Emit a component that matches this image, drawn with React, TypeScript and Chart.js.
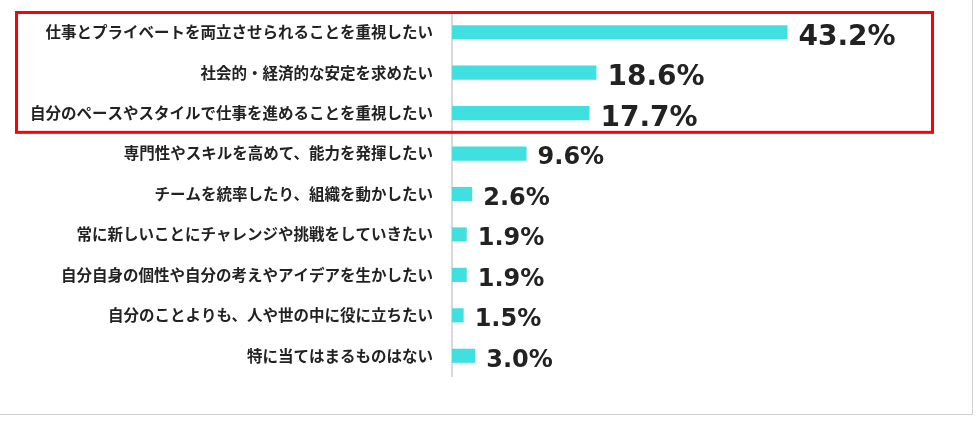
import React, { useEffect, useRef } from "react";
import { Chart, registerables } from "chart.js";

Chart.register(...registerables);

const categories = [
  "仕事とプライベートを両立させられることを重視したい",
  "社会的・経済的な安定を求めたい",
  "自分のペースやスタイルで仕事を進めることを重視したい",
  "専門性やスキルを高めて、能力を発揮したい",
  "チームを統率したり、組織を動かしたい",
  "常に新しいことにチャレンジや挑戦をしていきたい",
  "自分自身の個性や自分の考えやアイデアを生かしたい",
  "自分のことよりも、人や世の中に役に立ちたい",
  "特に当てはまるものはない",
];
const values = [43.2, 18.6, 17.7, 9.6, 2.6, 1.9, 1.9, 1.5, 3.0];
const highlightedRows = [0, 1, 2];

export default function App() {
  const ref = useRef<HTMLCanvasElement | null>(null);

  useEffect(() => {
    if (!ref.current) return;

    const highlightBox = {
      id: "highlightBox",
      afterDraw(chart: any) {
        const y = chart.scales.y;
        const step = (y.bottom - y.top) / categories.length;
        const first = Math.min(...highlightedRows);
        const last = Math.max(...highlightedRows);
        const top = y.top + first * step + 0.5;
        const bottom = y.top + (last + 1) * step - 1;
        const left = 16.5;
        const right = chart.width - 45.5;
        const ctx = chart.ctx;
        ctx.save();
        ctx.strokeStyle = "#ff0000";
        ctx.lineWidth = 3;
        ctx.strokeRect(left, top, right - left, bottom - top);
        ctx.restore();
      },
    };

    const valueLabels = {
      id: "valueLabels",
      afterDatasetsDraw(chart: any) {
        const meta = chart.getDatasetMeta(0);
        const ctx = chart.ctx;
        ctx.save();
        ctx.fillStyle = "#222222";
        ctx.textAlign = "left";
        ctx.textBaseline = "alphabetic";
        meta.data.forEach((bar: any, i: number) => {
          const size = highlightedRows.includes(i) ? 28 : 24;
          ctx.font = `bold ${size}px "DejaVu Sans", sans-serif`;
          ctx.fillText(values[i].toFixed(1) + "%", bar.x + 11, bar.y + size * 0.45);
        });
        ctx.restore();
      },
    };

    const chart = new Chart(ref.current, {
      type: "bar",
      data: {
        labels: categories,
        datasets: [
          {
            data: values,
            backgroundColor: "#40E0E0",
            borderWidth: 0,
            barPercentage: 0.35,
            categoryPercentage: 1,
          },
        ],
      },
      options: {
        indexAxis: "y",
        responsive: false,
        animation: false,
        layout: { padding: { top: 12, bottom: 48, left: 0, right: 60 } },
        plugins: {
          legend: { display: false },
          tooltip: { enabled: false },
        },
        scales: {
          x: { display: false, min: 0, max: 60 },
          y: {
            afterFit: (s: any) => {
              s.width = 452;
              s.paddingTop = 0;
              s.paddingBottom = 0;
            },
            grid: { display: false, drawTicks: false },
            border: { display: true, color: "#d9d9d9", width: 2 },
            ticks: {
              padding: 19,
              color: "#222222",
              font: { family: '"Noto Sans CJK JP", sans-serif', size: 15.5, weight: "bold" },
            },
          },
        },
      },
      plugins: [highlightBox, valueLabels],
    } as any);

    return () => chart.destroy();
  }, []);

  return (
    <div
      style={{
        position: "fixed",
        left: 0,
        top: 0,
        width: 978,
        height: 424,
        background: "#ffffff",
        overflow: "hidden",
      }}
    >
      <div
        style={{
          position: "absolute",
          left: -2,
          top: -2,
          width: 974,
          height: 416,
          borderRight: "1px solid #d0d0d0",
          borderBottom: "1px solid #d0d0d0",
        }}
      />
      <canvas
        ref={ref}
        width={978}
        height={424}
        style={{ position: "absolute", left: 0, top: 0, width: 978, height: 424 }}
      />
    </div>
  );
}
